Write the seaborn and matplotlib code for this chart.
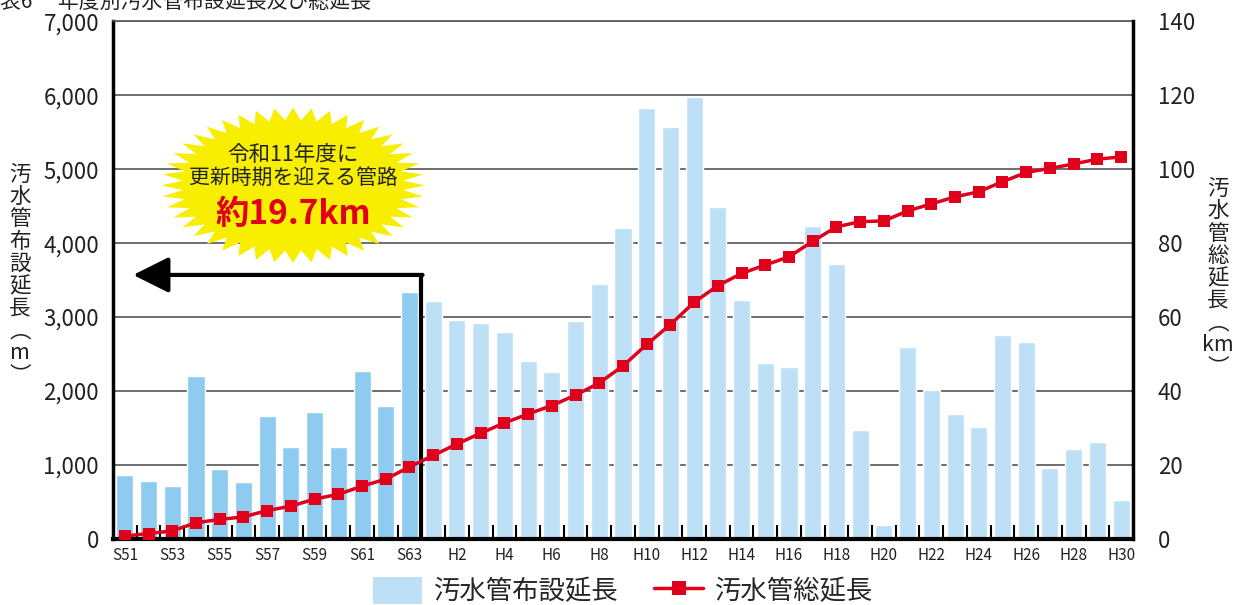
import numpy as np
import pandas as pd
import matplotlib
matplotlib.use('Agg')
import matplotlib.pyplot as plt
import seaborn as sns
from matplotlib.patches import Polygon, Patch
from matplotlib.lines import Line2D
from matplotlib.ticker import FuncFormatter, FixedLocator

# Data
years = ['S51', 'S52', 'S53', 'S54', 'S55', 'S56', 'S57', 'S58', 'S59', 'S60', 'S61', 'S62', 'S63'] + \
        ['H%d' % i for i in range(1, 31)]
pipe_laid_m = [860, 785, 720, 2200, 950, 775, 1665, 1245, 1720, 1245, 2270, 1800, 3335,
               3215, 2960, 2925, 2800, 2405, 2255, 2945, 3450, 4210, 5830, 5565, 5975,
               4490, 3230, 2375, 2330, 4235, 3715, 1475, 190, 2595, 2015, 1690, 1520,
               2760, 2665, 965, 1220, 1310, 530]
total_km = [0.8, 1.5, 2.2, 4.4, 5.3, 6.0, 7.7, 8.9, 10.8, 12.1, 14.3, 16.2, 19.5,
            22.6, 25.7, 28.6, 31.4, 33.8, 36.1, 38.9, 42.2, 46.8, 52.6, 58.0, 64.0,
            68.5, 71.8, 74.1, 76.3, 80.5, 84.4, 85.8, 86.0, 88.7, 90.6, 92.5, 93.9,
            96.6, 99.1, 100.2, 101.4, 102.7, 103.3]
era = ['S' if y.startswith('S') else 'H' for y in years]

sns.set_theme(style='white')
plt.rcParams['font.family'] = ['Noto Sans CJK JP', 'DejaVu Sans']

bar_colors = {'S': '#8DCBF0', 'H': '#BDE0F7'}
line_color = '#E0001B'

fig = plt.figure(figsize=(12.39, 6.05), dpi=100)
ax = fig.add_axes([0.0912, 0.109, 0.8232, 0.856])

df = pd.DataFrame({'year': years, 'laid': pipe_laid_m, 'era': era})
sns.barplot(data=df, x='year', y='laid', hue='era', palette=bar_colors, dodge=False,
            width=0.72, legend=False, saturation=1, ax=ax, zorder=2)
ax.set_xlim(-0.5, len(years) - 0.5)
ax.set_ylim(0, 7000)
ax.set_yticks(range(0, 7001, 1000))
ax.yaxis.set_major_formatter(FuncFormatter(lambda v, p: f'{int(v):,}'))
ax.yaxis.grid(True, color='#555555', lw=1.2)
ax.set_axisbelow(True)
ax.set_xlabel('')
ax.set_ylabel('')

ax.set_xticks(range(0, len(years), 2))
ax.set_xticklabels(years[::2], fontsize=11, color='#222222')
ax.xaxis.set_minor_locator(FixedLocator(np.arange(0.5, len(years) - 1, 1)))
ax.tick_params(axis='x', which='major', length=0, pad=6)
ax.tick_params(axis='x', which='minor', direction='in', length=10, width=1.5, color='black', bottom=True)
ax.tick_params(axis='y', length=0, labelsize=16, labelcolor='#222222', pad=10)

for s in ['left', 'bottom']:
    ax.spines[s].set_color('black')
ax.spines['left'].set_linewidth(2.5)
ax.spines['bottom'].set_linewidth(3)
ax.spines['top'].set_color('#555555')
ax.spines['top'].set_linewidth(1.2)
ax.spines['right'].set_visible(False)

# cumulative length on the right axis
ax2 = ax.twinx()
sns.lineplot(x=np.arange(len(years)), y=total_km, ax=ax2, color=line_color, lw=2.5,
             marker='s', markersize=9, markeredgewidth=0, zorder=5)
ax2.set_ylim(0, 140)
ax2.set_yticks(range(0, 141, 20))
ax2.tick_params(axis='y', length=0, labelsize=16, labelcolor='#222222', pad=18)
ax2.grid(False)
for s in ['left', 'top', 'bottom']:
    ax2.spines[s].set_visible(False)
ax2.spines['right'].set_color('black')
ax2.spines['right'].set_linewidth(2.5)
ax.set_xlim(-0.5, len(years) - 0.5)

# arrow marking pipes reaching renewal age
ax.plot([12.5, 12.5], [0, 3570], color='black', lw=3, zorder=6, solid_capstyle='butt')
ax.annotate('', xy=(0.35, 3570), xytext=(12.5 + 0.05, 3570),
            arrowprops=dict(arrowstyle='-|>,head_length=1.0,head_width=0.5', color='black',
                            lw=3, shrinkA=0, shrinkB=0, mutation_scale=22), zorder=6)

# yellow starburst
n = 44
ang = np.linspace(0, 2 * np.pi, 2 * n, endpoint=False)
rad = np.where(np.arange(2 * n) % 2 == 0, 1.0, 0.84)
cx, cy, rx, ry = 0.1765, 0.683, 0.129, 0.150
pts = np.column_stack([cx + rx * rad * np.cos(ang), cy + ry * rad * np.sin(ang)])
ax.add_patch(Polygon(pts, closed=True, transform=ax.transAxes, facecolor='#F7EE00',
                     edgecolor='none', zorder=7))
ax.text(cx, 0.741, '令和11年度に', transform=ax.transAxes, ha='center', va='center',
        fontsize=15.5, color='#222222', zorder=8)
ax.text(cx, 0.697, '更新時期を迎える管路', transform=ax.transAxes, ha='center', va='center',
        fontsize=15, color='#222222', zorder=8)
ax.text(cx, 0.627, '約19.7km', transform=ax.transAxes, ha='center', va='center',
        fontsize=24, fontweight='bold', color=line_color, zorder=8)

# axis titles (vertical text)
fig.text(0.016, 0.545, '汚\n水\n管\n布\n設\n延\n長\n︵\nm\n︶', ha='center', va='center',
         fontsize=15.5, color='#222222', linespacing=1.02)
fig.text(0.983, 0.54, '汚\n水\n管\n総\n延\n長\n︵\nkm\n︶', ha='center', va='center',
         fontsize=15.5, color='#222222', linespacing=1.02)

# title partly cut off at the top edge (as in the source image)
fig.text(0.0, 0.997, '表6　 年度別汚水管布設延長及び総延長', ha='left', va='center',
         fontsize=15, color='#222222')

handles = [Patch(facecolor=bar_colors['H'], edgecolor='none'),
           Line2D([0], [0], color=line_color, lw=2.5, marker='s', markersize=10, markeredgewidth=0)]
fig.legend(handles, ['汚水管布設延長', '汚水管総延長'], loc='lower center',
           bbox_to_anchor=(0.503, -0.04), ncol=2, fontsize=19, frameon=False,
           handlelength=1.85, handleheight=1.2, columnspacing=1.35, handletextpad=0.45)

fig.savefig('out.png', dpi=100)
